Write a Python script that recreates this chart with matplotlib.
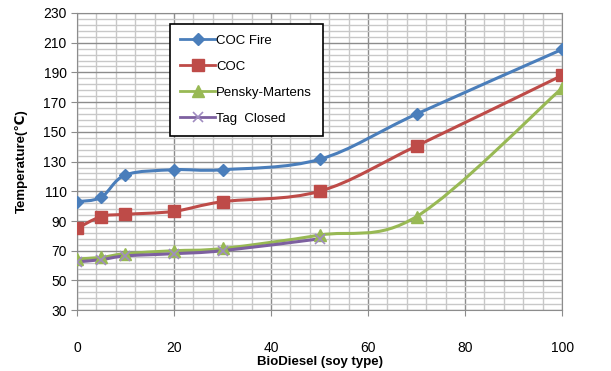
import numpy as np
import matplotlib.pyplot as plt
from matplotlib.path import Path
from matplotlib.patches import PathPatch
from matplotlib.lines import Line2D

plt.rcParams['font.family'] = ['Liberation Sans', 'DejaVu Sans']

# data
blend = [0, 5, 10, 20, 30, 50, 70, 100]
coc_fire = [103, 106, 121, 124.5, 124.5, 131.5, 162, 205.5]
coc = [85, 93, 94.5, 96.5, 103, 110, 140.5, 188]
pensky = [64.5, 65.5, 68, 70, 71.5, 80.5, 93, 179.5]
tag_blend = [0, 5, 10, 20, 30, 50]
tag_closed = [62.5, 64, 66.5, 68, 70, 78]

x_ticks = [0, 20, 40, 60, 80, 100]
y_ticks = [30, 50, 70, 90, 110, 130, 150, 170, 190, 210, 230]

series = [
    ('COC Fire', blend, coc_fire, '#4a7ebb', 'D', 6),
    ('COC', blend, coc, '#be4b48', 's', 8),
    ('Pensky-Martens', blend, pensky, '#98b954', '^', 8),
    ('Tag  Closed', tag_blend, tag_closed, '#7d60a0', 'x', 7),
]


def smooth_path(xs, ys):
    # excel style smoothed line: cubic bezier through every point
    p = np.column_stack([xs, ys]).astype(float)
    n = len(p)
    verts = [p[0]]
    codes = [Path.MOVETO]
    for i in range(n - 1):
        p0 = p[i - 1] if i > 0 else p[i]
        p3 = p[i + 2] if i + 2 < n else p[i + 1]
        c1 = p[i] + (p[i + 1] - p0) / 6
        c2 = p[i + 1] - (p3 - p[i]) / 6
        verts += [c1, c2, p[i + 1]]
        codes += [Path.CURVE4] * 3
    return Path(verts, codes)


fig = plt.figure(figsize=(6.11, 3.71), dpi=100)
ax = fig.add_axes([0.126, 0.164, 0.794, 0.801])

handles = []
for label, xs, ys, col, mk, ms in series:
    ax.add_patch(PathPatch(smooth_path(xs, ys), fill=False, edgecolor=col,
                           lw=2.2, zorder=3))
    if mk == 'x':
        ax.plot(xs, ys, ls='none', marker=mk, ms=ms, mew=1.2, color='#a08cc0', zorder=4)
    else:
        ax.plot(xs, ys, ls='none', marker=mk, ms=ms, color=col, zorder=4)
    h = Line2D([], [], color=col, lw=2, marker=mk, ms=ms,
               mew=1.2 if mk == 'x' else 1,
               mec='#a08cc0' if mk == 'x' else col,
               label=label)
    handles.append(h)

ax.set_xlim(0, 100)
ax.set_ylim(30, 230)
ax.set_xticks(x_ticks)
ax.set_xticks(np.arange(0, 101, 4), minor=True)
ax.set_yticks(y_ticks)
ax.set_yticks(np.arange(30, 231, 4), minor=True)
ax.grid(True, which='major', color='#8c8c8c', lw=1)
ax.grid(True, which='minor', color='#c8c8c8', lw=1)
ax.set_axisbelow(True)

for s in ax.spines.values():
    s.set_color('#8c8c8c')
ax.tick_params(which='major', length=4, color='#8c8c8c', labelsize=10)
ax.tick_params(axis='x', which='major', pad=18)
ax.tick_params(which='minor', length=0)

ax.set_xlabel('BioDiesel (soy type)', fontsize=9.5, fontweight='bold', labelpad=1)
ax.set_ylabel('Temperature(℃)', fontsize=9.5, fontweight='bold', labelpad=11)

leg = ax.legend(handles=handles, loc='upper left', bbox_to_anchor=(0.178, 0.985),
                fontsize=9.5, frameon=True, fancybox=False, edgecolor='black',
                framealpha=1, handlelength=2.6, labelspacing=1.05,
                borderpad=0.8, handletextpad=0.1)
leg.get_frame().set_linewidth(1.2)

fig.savefig('out.png', dpi=100)
